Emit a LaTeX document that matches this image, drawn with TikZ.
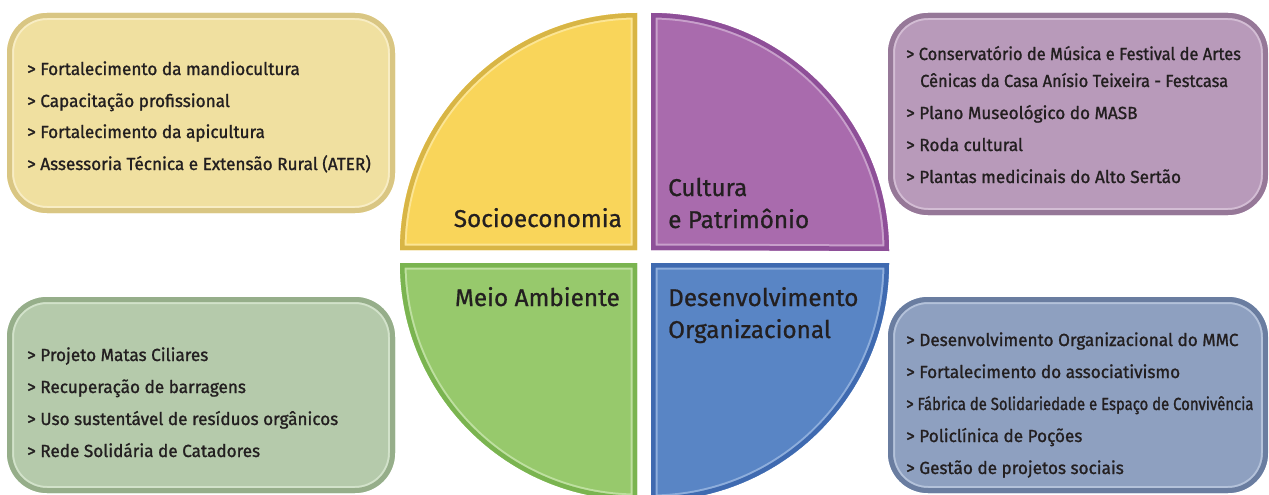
\documentclass[tikz,border=0pt]{standalone}
\usepackage{fontspec}
\setmainfont[FakeBold=0.8]{Fira Sans}
\newfontfamily\itemfont[FakeStretch=0.98,FakeBold=1.2]{Fira Sans}
\newfontfamily\itemmid[FakeStretch=0.94,FakeBold=1.2]{Fira Sans}
\newfontfamily\itemnarrow[FakeStretch=0.85,FakeBold=1.2]{Fira Sans}
\definecolor{txt}{HTML}{231F20}
\definecolor{yelFill}{HTML}{F9D55A}
\definecolor{yelEdge}{HTML}{D8B545}
\definecolor{yelHi}{HTML}{FCE594}
\definecolor{purFill}{HTML}{A96BAD}
\definecolor{purEdge}{HTML}{8E4F98}
\definecolor{purHi}{HTML}{C8A0CB}
\definecolor{grnFill}{HTML}{97C96C}
\definecolor{grnEdge}{HTML}{7AB450}
\definecolor{grnHi}{HTML}{BEE0A0}
\definecolor{bluFill}{HTML}{5985C5}
\definecolor{bluEdge}{HTML}{3F6AB0}
\definecolor{bluHi}{HTML}{8EAEDC}
\definecolor{tlFill}{HTML}{F0E0A0}
\definecolor{tlEdge}{HTML}{D9C683}
\definecolor{tlHi}{HTML}{F8EDC4}
\definecolor{trFill}{HTML}{B89ABA}
\definecolor{trEdge}{HTML}{967898}
\definecolor{trHi}{HTML}{D3BDD4}
\definecolor{blFill}{HTML}{B5CAAB}
\definecolor{blEdge}{HTML}{96AE8A}
\definecolor{blHi}{HTML}{D2E2CA}
\definecolor{brFill}{HTML}{8EA0C0}
\definecolor{brEdge}{HTML}{6A7DA0}
\definecolor{brHi}{HTML}{B4C2DA}
\newcommand\bevelbox[5]{%
  \fill[#5Fill, rounded corners=40pt] (#1,#2) rectangle (#3,#4);
  \begin{scope}
    \clip[rounded corners=40pt] (#1,#2) rectangle (#3,#4);
    \draw[#5Hi, line width=14pt, rounded corners=40pt] (#1,#2) rectangle (#3,#4);
    \draw[#5Edge, line width=10pt, rounded corners=40pt] (#1,#2) rectangle (#3,#4);
  \end{scope}}
\newcommand\quadshape[2]{% path, colour prefix
  \fill[#2Fill] #1;
  \begin{scope}
    \clip #1;
    \draw[#2Hi, line width=13pt] #1;
    \draw[#2Edge, line width=9pt] #1;
  \end{scope}}
\tikzset{
  itemtext/.style={anchor=base west, inner sep=0pt, text=txt,
    font=\itemfont\fontsize{17.5}{20}\selectfont},
  quadlabel/.style={inner sep=0pt, text=txt, font=\fontsize{24.3}{28}\selectfont}
}
\begin{document}
\begin{tikzpicture}[x=1pt,y=-1pt]
\useasboundingbox (0,0) rectangle (1269,495);
\fill[white] (0,0) rectangle (1269,495);
% quadrants
\quadshape{(637,250) -- (400,250) arc[start angle=180,end angle=90,radius=237pt] -- cycle}{yel}
\quadshape{(651,250) -- (651,13) arc[start angle=90,end angle=0,radius=238pt] -- cycle}{pur}
\quadshape{(637,263) -- (400,263) arc[start angle=180,end angle=270,radius=237pt] -- cycle}{grn}
\quadshape{(651,263) -- (889,263) arc[start angle=0,end angle=-90,radius=238pt] -- cycle}{blu}
% boxes
\bevelbox{7}{13}{395}{213}{tl}
\bevelbox{888}{13}{1268}{215}{tr}
\bevelbox{7}{297}{395}{493}{bl}
\bevelbox{888}{297}{1268}{493}{br}
% quadrant labels
\node[quadlabel, anchor=base east] (socio) at (622,227) {Socioeconomia};
\node[quadlabel, anchor=base west] (cult1) at (668,196) {Cultura};
\node[quadlabel, anchor=base west] (cult2) at (668,228) {e Patrimônio};
\node[quadlabel, anchor=base east] (meio) at (620,306) {Meio Ambiente};
\node[quadlabel, anchor=base west] (des1) at (668,306) {Desenvolvimento};
\node[quadlabel, anchor=base west] (des2) at (668,338) {Organizacional};
% top-left items
\node[itemtext] (tl1) at (27,75) {> Fortalecimento da mandiocultura};
\node[itemtext] (tl2) at (27,107) {> Capacitação profissional};
\node[itemtext] (tl3) at (27,138) {> Fortalecimento da apicultura};
\node[itemtext] (tl4) at (27,170) {> Assessoria Técnica e Extensão Rural (ATER)};
% top-right items
\node[itemtext, font=\itemmid\fontsize{17.5}{20}\selectfont] (tr1) at (906,60) {> Conservatório de Música e Festival de Artes};
\node[itemtext, font=\itemmid\fontsize{17.5}{20}\selectfont] (tr2) at (920,87) {Cênicas da Casa Anísio Teixeira - Festcasa};
\node[itemtext] (tr3) at (906,119) {> Plano Museológico do MASB};
\node[itemtext] (tr4) at (906,151) {> Roda cultural};
\node[itemtext] (tr5) at (906,183) {> Plantas medicinais do Alto Sertão};
% bottom-left items
\node[itemtext] (bl1) at (27,361) {> Projeto Matas Ciliares};
\node[itemtext] (bl2) at (27,393) {> Recuperação de barragens};
\node[itemtext] (bl3) at (27,425) {> Uso sustentável de resíduos orgânicos};
\node[itemtext] (bl4) at (27,457) {> Rede Solidária de Catadores};
% bottom-right items
\node[itemtext] (br1) at (906,346) {> Desenvolvimento Organizacional do MMC};
\node[itemtext] (br2) at (906,378) {> Fortalecimento do associativismo};
\node[itemtext, font=\itemnarrow\fontsize{17.5}{20}\selectfont] (br3) at (906,410) {> Fábrica de Solidariedade e Espaço de Convivência};
\node[itemtext] (br4) at (906,442) {> Policlínica de Poções};
\node[itemtext] (br5) at (906,474) {> Gestão de projetos sociais};
\end{tikzpicture}
\end{document}
